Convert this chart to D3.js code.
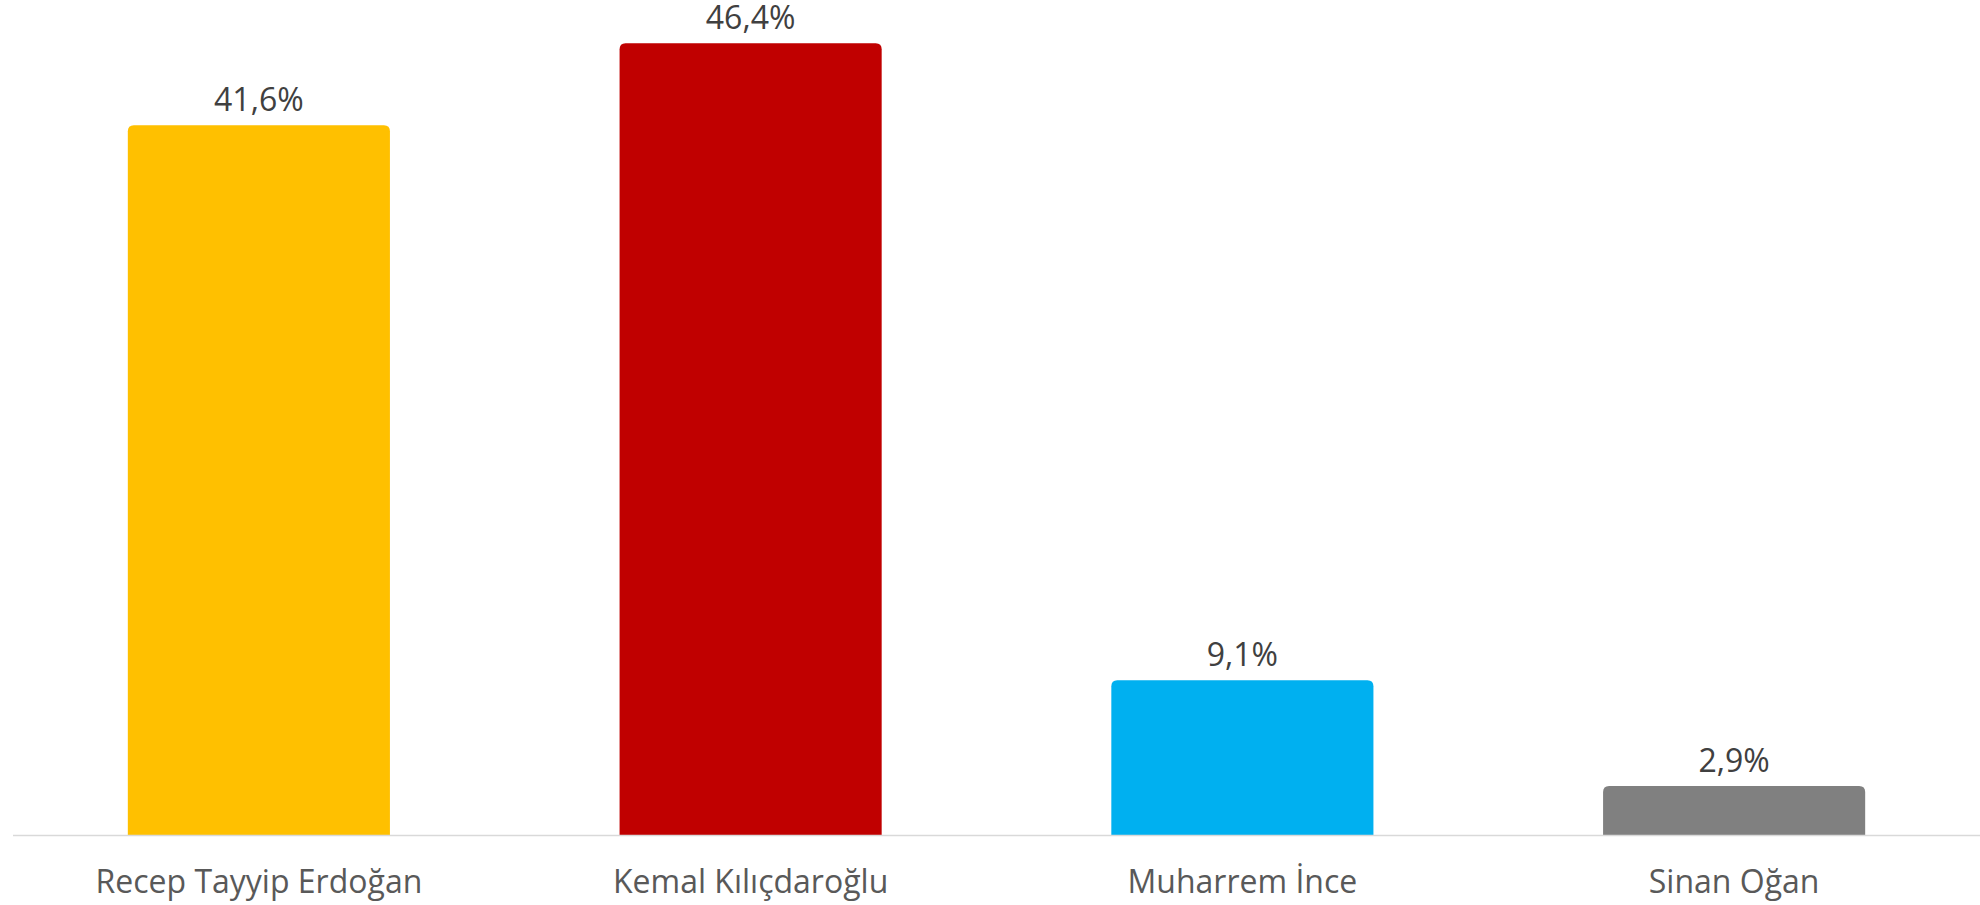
<!doctype html>
<html>
  <head>
    <meta charset="utf-8">
    <script src="https://cdnjs.cloudflare.com/ajax/libs/d3/7.8.5/d3.min.js"></script>
    <style>
      body { margin: 0; background: #fff; }
      svg text { font-family: "Open Sans", sans-serif; }
    </style>
  </head>
  <body>
    <svg id="chart" width="1980" height="905"></svg>
    <script>
        var candidates = ["Recep Tayyip Erdoğan", "Kemal Kılıçdaroğlu", "Muharrem İnce", "Sinan Oğan"];
        var shares = [41.6, 46.4, 9.1, 2.9];
        var colors = ["#FFC000", "#C00000", "#00B0F0", "#808080"];

        var svg = d3.select("#chart");
        var baseY = 835.5;

        var x = d3.scaleBand()
            .domain(candidates)
            .range([13, 1980])
            .paddingInner(0.467)
            .paddingOuter(0.2335);

        var y = d3.scaleLinear()
            .domain([0, d3.max(shares)])
            .range([baseY, 43.3]);

        var fmt = v => d3.format(".1f")(v).replace(".", ",") + "%";

        // bar with rounded top corners only
        function barPath(x0, y0, w, h, r) {
            return "M" + x0 + "," + (y0 + h) +
                "V" + (y0 + r) +
                "Q" + x0 + "," + y0 + " " + (x0 + r) + "," + y0 +
                "H" + (x0 + w - r) +
                "Q" + (x0 + w) + "," + y0 + " " + (x0 + w) + "," + (y0 + r) +
                "V" + (y0 + h) + "Z";
        }

        var data = candidates.map((c, i) => ({ name: c, value: shares[i], color: colors[i] }));

        svg.selectAll("path.bar")
            .data(data)
            .enter()
            .append("path")
                .attr("class", "bar")
                .attr("d", d => barPath(x(d.name), y(d.value), x.bandwidth(), baseY - y(d.value), 6))
                .style("fill", d => d.color);

        svg.append("line")
            .attr("x1", 13).attr("x2", 1980)
            .attr("y1", baseY).attr("y2", baseY)
            .style("stroke", "#d9d9d9")
            .style("stroke-width", 1.5);

        svg.selectAll("text.val")
            .data(data)
            .enter()
            .append("text")
                .attr("class", "val")
                .attr("x", d => x(d.name) + x.bandwidth() / 2)
                .attr("y", d => y(d.value) - 14)
                .attr("text-anchor", "middle")
                .style("font-size", "32px")
                .style("fill", "#404040")
                .text(d => fmt(d.value));

        var xAxis = svg.append("g")
            .attr("transform", "translate(0," + baseY + ")")
            .call(d3.axisBottom(x).tickSize(0).tickPadding(0));
        xAxis.select(".domain").remove();
        xAxis.selectAll("text")
            .attr("dy", 0)
            .attr("y", 57.5)
            .style("font-size", "32px")
            .style("font-family", "'Open Sans', sans-serif")
            .style("fill", "#595959");
    </script>
  </body>
</html>
